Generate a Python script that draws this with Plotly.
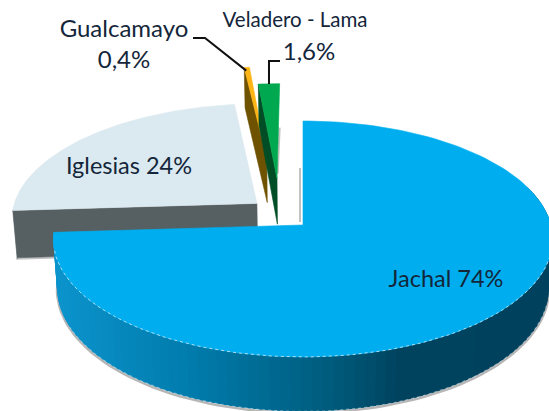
import numpy as np
import plotly.graph_objects as go

# --- data ---
categories = ["Jachal", "Iglesias", "Gualcamayo", "Veladero - Lama"]
values = [74.0, 24.0, 0.4, 1.6]
value_labels = ["74%", "24%", "0,4%", "1,6%"]

# --- styling / projection of the tilted disc ---
CX, CY, RX, RY, K, DEPTH, SHRINK = 303, 225, 248, 116.3, 0.1186, 48, 0.985
explode = {"Jachal": (0, 0), "Iglesias": (-0.19, -0.19),
           "Gualcamayo": (-0.157, -0.62), "Veladero - Lama": (-0.11, -0.42)}
top_colors = {"Jachal": "#00AEEF", "Iglesias": "#DBE9F0",
              "Gualcamayo": "#FDB515", "Veladero - Lama": "#00A94F"}
face_colors = {"Iglesias": "#565F61", "Gualcamayo": "#6E5200", "Veladero - Lama": "#004D26"}
INK = "#14263A"
FONT = "Lato"


def project(X, Y, low=False):
    X, Y = np.asarray(X, float), np.asarray(Y, float)
    w = 1 - K * Y
    sx, sy = CX + RX * X / w, CY + RY * Y / w
    if low:
        sx = CX + (sx - CX) * SHRINK
        sy = sy + DEPTH / w
    return sx, sy


fractions = np.cumsum([0] + values) / sum(values) * 2 * np.pi
spans = {c: (fractions[i], fractions[i + 1]) for i, c in enumerate(categories)}


def arc(cat, a=None, b=None, n=160):
    a0, b0 = spans[cat]
    a = a0 if a is None else a
    b = b0 if b is None else b
    dx, dy = explode[cat]
    t = np.linspace(a, b, n)
    return np.sin(t) + dx, -np.cos(t) + dy


def poly(x, y, color, line=None, width=0.6):
    return go.Scatter(x=list(x) + [x[0]], y=list(y) + [y[0]], mode="lines", fill="toself",
                      fillcolor=color, line=dict(color=line or color, width=width),
                      hoverinfo="skip", showlegend=False)


def line(x, y, color, width, dash="solid"):
    return go.Scatter(x=list(x), y=list(y), mode="lines", line=dict(color=color, width=width, dash=dash),
                      hoverinfo="skip", showlegend=False)


def top_face(cat):
    X, Y = arc(cat)
    dx, dy = explode[cat]
    sx, sy = project(np.r_[dx, X], np.r_[dy, Y])
    return poly(sx, sy, top_colors[cat])


def cut_face(cat, at_start):
    a0, b0 = spans[cat]
    t = a0 if at_start else b0
    dx, dy = explode[cat]
    X, Y = [dx, np.sin(t) + dx], [dy, -np.cos(t) + dy]
    ux, uy = project(X, Y)
    lx, ly = project(X, Y, low=True)
    return ux, uy, lx, ly


fig = go.Figure()

# soft shadows
ux, uy, lx, ly = cut_face("Iglesias", True)
fig.add_trace(line([lx[1] - 1, lx[0] + 1], [ly[1] + 1, ly[0] + 1], "rgba(120,120,120,0.45)", 2))
fig.add_trace(line([ux[1] + 1, lx[1] + 0.5], [uy[1], ly[1] + 1], "rgba(120,120,120,0.4)", 1.5))
vx_top, vy_top = project(*arc("Veladero - Lama", n=2))
fig.add_trace(line([vx_top[1], vx_top[1] - 2], [vy_top[1] + 44, vy_top[1] + 90],
                   "rgba(120,120,120,0.45)", 2))
fig.add_trace(line([CX - 3, CX - 3], [168, CY - 3], "rgba(120,120,120,0.45)", 2))

# Iglesias
ux, uy, lx, ly = cut_face("Iglesias", True)
fig.add_trace(poly([ux[0], ux[1], lx[1], lx[0]], [uy[0], uy[1], ly[1], ly[0]], face_colors["Iglesias"]))
fig.add_trace(top_face("Iglesias"))

# Gualcamayo
ux, uy, lx, ly = cut_face("Gualcamayo", True)
fig.add_trace(poly([ux[0], ux[1], lx[1], lx[0]], [uy[0], uy[1], ly[1], ly[0]], face_colors["Gualcamayo"]))
fig.add_trace(top_face("Gualcamayo"))

# Veladero - Lama
ux, uy, lx, ly = cut_face("Veladero - Lama", True)
fig.add_trace(poly([ux[0], ux[1], lx[1], lx[0]], [uy[0], uy[1], ly[1], ly[0]], face_colors["Veladero - Lama"]))
fig.add_trace(top_face("Veladero - Lama"))

# Jachal: outer wall with a left-to-right gradient; each quad overlaps the next to avoid seams
stops_x = [55, 200, 330, 400, 550]
stops_rgb = np.array([[12, 148, 205], [0, 122, 170], [1, 92, 125], [0, 68, 96], [0, 66, 94]], float)
wX, wY = arc("Jachal", a=np.radians(70), b=spans["Jachal"][1], n=90)
tx, ty = project(wX, wY)
bx, by = project(wX, wY, low=True)
fig.add_trace(line(bx[::-1], by[::-1] + 1.5, "rgba(110,110,110,0.5)", 2.5))
for i in range(len(tx) - 1):
    mid = (tx[i] + tx[i + 1]) / 2
    rgb = [int(np.interp(mid, stops_x, stops_rgb[:, c])) for c in range(3)]
    color = f"rgb({rgb[0]},{rgb[1]},{rgb[2]})"
    j = min(i + 2, len(tx) - 1)
    fig.add_trace(go.Scatter(x=[tx[i], tx[j], bx[j], bx[i], tx[i]], y=[ty[i], ty[j], by[j], by[i], ty[i]],
                             mode="lines", fill="toself", fillcolor=color, line=dict(width=0),
                             hoverinfo="skip", showlegend=False))
fig.add_trace(top_face("Jachal"))
eX, eY = arc("Jachal", a=np.radians(105), b=np.radians(258), n=100)
ex, ey = project(eX, eY)
fig.add_trace(line(ex, ey, "rgba(220,240,250,0.75)", 1, "dot"))
bX, bY = arc("Jachal", a=np.radians(105), b=np.radians(245), n=100)
ex, ey = project(bX, bY, low=True)
fig.add_trace(line(ex, ey, "rgba(235,245,250,0.6)", 0.8, "dot"))

# leader lines, anchored on the slices they point to
gX, gY = arc("Gualcamayo", n=2)
gx, gy = project(gX, gY)
fig.add_trace(line([193, 205, gx[0] + 2], [38, 38, gy[0] + 3], "#101010", 2))
vX, vY = arc("Veladero - Lama", n=2)
vx, vy = project(vX, vY)
vm = (vx[0] + vx[1]) / 2
fig.add_trace(line([280, vm, vm], [61, 61, vy[0]], "#101010", 2))

# labels
texts = [
    (446, 281, f"{categories[0]} {value_labels[0]}", 23.5),
    (129, 168, f"{categories[1]} {value_labels[1]}", 23.5),
    (124, 31, categories[2], 24),
    (124, 62, value_labels[2], 24),
    (295, 22, categories[3], 20.5),
    (309, 54, value_labels[3], 24),
]
for x, y, s, size in texts:
    fig.add_trace(go.Scatter(x=[x], y=[y], text=[s], mode="text", textposition="middle center",
                             textfont=dict(family=FONT, size=size, color=INK),
                             hoverinfo="skip", showlegend=False, cliponaxis=False))

fig.update_layout(
    width=549, height=411, margin=dict(l=0, r=0, t=0, b=0), showlegend=False,
    paper_bgcolor="white", plot_bgcolor="white",
    xaxis=dict(range=[0, 549], visible=False, fixedrange=True),
    yaxis=dict(range=[411, 0], visible=False, fixedrange=True),
)
fig.write_html("out.html", config={"displayModeBar": False},
               post_script="document.body.style.margin='0';document.documentElement.style.overflow='hidden';document.body.style.overflow='hidden';")
